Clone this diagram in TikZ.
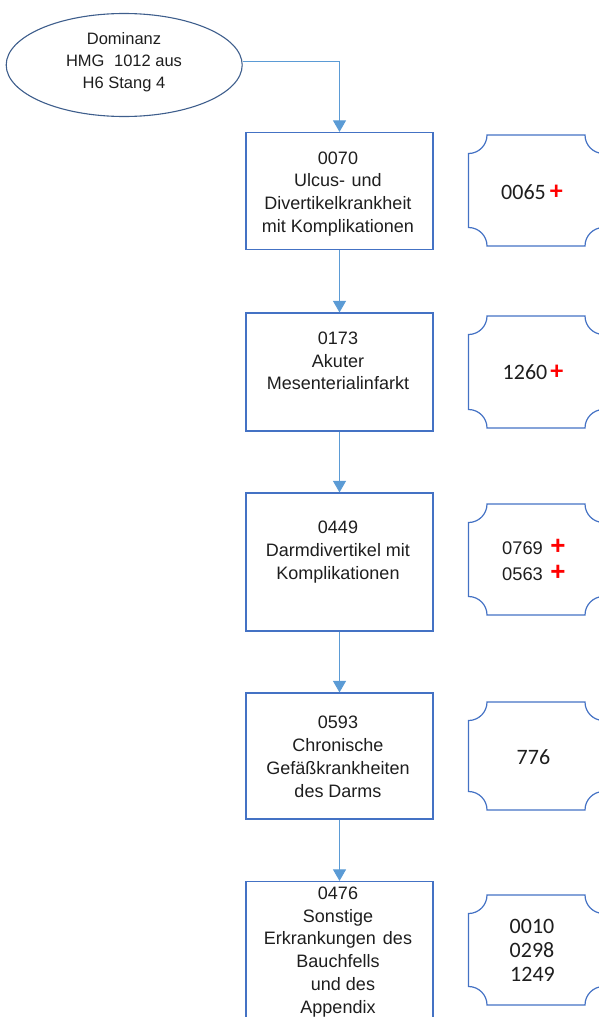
\documentclass[tikz,border=0pt]{standalone}
\usepackage{fontspec}
\setmainfont{Liberation Sans}
\newfontfamily\calfont{Carlito}
\usetikzlibrary{arrows.meta,shapes.geometric}
\definecolor{boxblue}{RGB}{68,114,196}
\definecolor{ellblue}{RGB}{62,94,140}
\definecolor{arrblue}{RGB}{91,155,213}
\definecolor{txtgray}{RGB}{30,30,30}
\newcommand\plusmark{{\color{red}\fontsize{26}{26}\selectfont\bfseries +}}
\newcommand\myplaque[4]{%
  \draw[plq] ({#1+18.5},#2) -- ({#3-18.5},#2)
    arc[start angle=180,end angle=90,radius=18.5] -- (#3,{#4-18.5})
    arc[start angle=270,end angle=180,radius=18.5] -- ({#1+18.5},#4)
    arc[start angle=0,end angle=-90,radius=18.5] -- (#1,{#2+18.5})
    arc[start angle=90,end angle=0,radius=18.5] -- cycle;}
\begin{document}
\begin{tikzpicture}[x=1pt,y=-1pt,
  box/.style={draw=boxblue,line width=1.2pt,rectangle,inner sep=0pt,minimum width=187pt},
  ell/.style={draw=ellblue,line width=1.1pt,ellipse,inner sep=0pt,minimum width=236pt,minimum height=103pt},
  plq/.style={draw=boxblue,line width=1.2pt},
  txt/.style={anchor=north,align=center,inner sep=0pt,text=txtgray,font=\fontsize{18}{22.8}\selectfont},
  etxt/.style={anchor=north,align=center,inner sep=0pt,text=txtgray,font=\fontsize{16.5}{22}\selectfont},
  ptxt/.style={anchor=base west,inner sep=0pt,text=txtgray,font=\calfont\fontsize{22}{22}\selectfont},
  atxt/.style={anchor=base west,inner sep=0pt,text=txtgray,font=\fontsize{18.3}{18.3}\selectfont},
  conn/.style={draw=arrblue,line width=1pt},
  arr/.style={conn,-{Triangle[width=13pt,length=11.5pt]}}
]
\useasboundingbox (0,0) rectangle (599,1017);
\clip (0,0) rectangle (599,1017);

% ellipse
\node[ell] (e) at (124.2,65) {};
\node[etxt] (et) at (124,32.6) {Dominanz\\HMG\hspace{5pt} 1012 aus\\H6 Stang 4};

% boxes
\node[box,minimum height=117pt] (b1) at (339.5,191) {};
\node[box,minimum height=118pt] (b2) at (339.5,372) {};
\node[box,minimum height=138pt] (b3) at (339.5,562) {};
\node[box,minimum height=126pt] (b4) at (339.5,756) {};
\node[box,minimum height=150pt] (b5) at (339.5,956.5) {};

\node[txt] (t1) at (338,151.3) {0070\\Ulcus-\hspace{1.5pt} und\\Divertikelkrankheit\\mit Komplikationen};
\node[txt] (t2) at (338,331.5) {0173\\Akuter\\Mesenterialinfarkt};
\node[txt] (t3) at (338,521) {0449\\Darmdivertikel mit\\Komplikationen};
\node[txt] (t4) at (338,716) {0593\\Chronische\\Gefäßkrankheiten\\des Darms};
\node[txt] (t5) at (338,886.5) {0476\\Sonstige\\Erkrankungen\hspace{2pt} des\\Bauchfells\\\hspace*{10pt}und des\\Appendix};

% connectors
\coordinate (j) at (b1.north |- 0,61);
\draw[conn] (e.east |- j) -- (j);
\draw[arr] (j) -- (b1.north);
\draw[arr] (b1.south) -- (b2.north);
\draw[arr] (b2.south) -- (b3.north);
\draw[arr] (b3.south) -- (b4.north);
\draw[arr] (b4.south) -- (b5.north);

% plaques
\myplaque{468.5}{135}{603.5}{246}
\myplaque{468.5}{316}{603.5}{428}
\myplaque{468.5}{504}{603.5}{615}
\myplaque{468.5}{702}{603.5}{810}
\myplaque{468.5}{895}{603.5}{1005}

\node[ptxt] (p1) at (501,199.3) {0065\hspace{4pt}\plusmark};
\node[ptxt] (p2) at (502.5,379.3) {1260\hspace{3pt}\plusmark};
\node[atxt] (p3a) at (502,554) {0769\hspace{7.5pt}\plusmark};
\node[atxt] (p3b) at (502,580.7) {0563\hspace{7.5pt}\plusmark};
\node[ptxt] (p4) at (516.5,764) {776};
\node[ptxt] (p5a) at (509.5,933.5) {0010};
\node[ptxt] (p5b) at (509.5,957.3) {0298};
\node[ptxt] (p5c) at (510,981.5) {1249};
\end{tikzpicture}
\end{document}
